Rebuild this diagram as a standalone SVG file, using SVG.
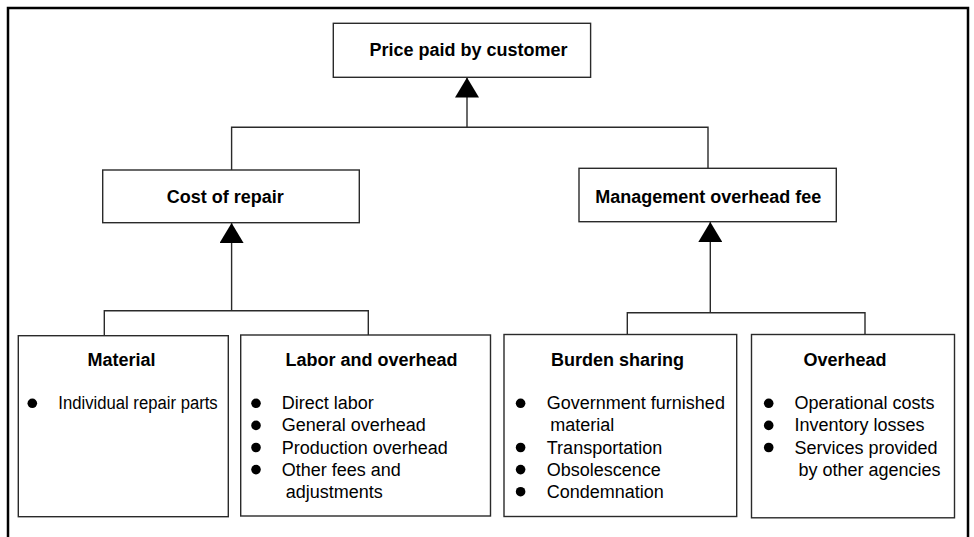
<svg xmlns="http://www.w3.org/2000/svg" width="974" height="537" viewBox="0 0 974 537">
<defs>
<style>
.box{fill:#fff;stroke:#2a2a2a;stroke-width:1.4}
.ln{fill:none;stroke:#2a2a2a;stroke-width:1.4}
.t{font-family:"Liberation Sans",Arial,sans-serif;font-size:18px;fill:#000}
.b{font-weight:bold}
.dot{fill:#000}
</style>
<marker id="ah" viewBox="0 0 20 24" markerWidth="20" markerHeight="24" markerUnits="userSpaceOnUse" refX="20" refY="12" orient="auto">
<path d="M0,0 L20,12 L0,24 Z" fill="#000"/>
</marker>
</defs>
<rect width="974" height="537" fill="#fff"/>
<path d="M8,545 V8 H968 V545" fill="none" stroke="#000" stroke-width="2.5"/>
<g id="connectors">
<path class="ln" d="M467,127.3 V77.5" marker-end="url(#ah)"/>
<path class="ln" d="M231.6,170 V127.3 H708 V168.3"/>
<path class="ln" d="M231.6,310.7 V223" marker-end="url(#ah)"/>
<path class="ln" d="M104.3,335.7 V310.7 H368.3 V335"/>
<path class="ln" d="M710.3,312.8 V222" marker-end="url(#ah)"/>
<path class="ln" d="M627.3,334.5 V312.8 H865 V334.5"/>
</g>
<g id="price">
<rect class="box" x="333.3" y="23.3" width="257.3" height="54"/>
<text class="t b" x="369.5" y="55.7">Price paid by customer</text>
</g>
<g id="cost">
<rect class="box" x="102.7" y="170" width="256.6" height="52.7"/>
<text class="t b" x="166.7" y="203.3">Cost of repair</text>
</g>
<g id="mgmt">
<rect class="box" x="579" y="168.3" width="257.3" height="53.4"/>
<text class="t b" x="595.3" y="202.7">Management overhead fee</text>
</g>
<g id="material">
<rect class="box" x="18.3" y="335.7" width="210" height="181"/>
<text class="t b" x="87.5" y="365.5">Material</text>
<circle class="dot" cx="32.3" cy="403.3" r="4.8"/>
<text class="t" x="58.3" y="409.3" textLength="159.4" lengthAdjust="spacingAndGlyphs">Individual repair parts</text>
</g>
<g id="labor">
<rect class="box" x="240.7" y="335" width="249.8" height="181"/>
<text class="t b" x="285.5" y="365.5">Labor and overhead</text>
<circle class="dot" cx="256" cy="403.3" r="4.8"/>
<circle class="dot" cx="256" cy="425.4" r="4.8"/>
<circle class="dot" cx="256" cy="447.5" r="4.8"/>
<circle class="dot" cx="256" cy="469.6" r="4.8"/>
<text class="t" x="281.7" y="409.3">Direct labor</text>
<text class="t" x="281.7" y="431.4">General overhead</text>
<text class="t" x="281.7" y="453.5">Production overhead</text>
<text class="t" x="281.7" y="475.6">Other fees and</text>
<text class="t" x="285.7" y="497.7">adjustments</text>
</g>
<g id="burden">
<rect class="box" x="504" y="334.5" width="232.7" height="182"/>
<text class="t b" x="551" y="365.5">Burden sharing</text>
<circle class="dot" cx="520.6" cy="403.3" r="4.8"/>
<circle class="dot" cx="520.6" cy="447.5" r="4.8"/>
<circle class="dot" cx="520.6" cy="469.6" r="4.8"/>
<circle class="dot" cx="520.6" cy="491.7" r="4.8"/>
<text class="t" x="546.8" y="409.3">Government furnished</text>
<text class="t" x="550.3" y="431.4">material</text>
<text class="t" x="546.8" y="453.5">Transportation</text>
<text class="t" x="546.8" y="475.6">Obsolescence</text>
<text class="t" x="546.8" y="497.7">Condemnation</text>
</g>
<g id="overhead">
<rect class="box" x="751.5" y="334.5" width="203" height="183.3"/>
<text class="t b" x="803.5" y="365.5">Overhead</text>
<circle class="dot" cx="768.7" cy="403.3" r="4.8"/>
<circle class="dot" cx="768.7" cy="425.4" r="4.8"/>
<circle class="dot" cx="768.7" cy="447.5" r="4.8"/>
<text class="t" x="794.4" y="409.3">Operational costs</text>
<text class="t" x="794.4" y="431.4">Inventory losses</text>
<text class="t" x="794.4" y="453.5">Services provided</text>
<text class="t" x="798.4" y="475.6">by other agencies</text>
</g>
</svg>
